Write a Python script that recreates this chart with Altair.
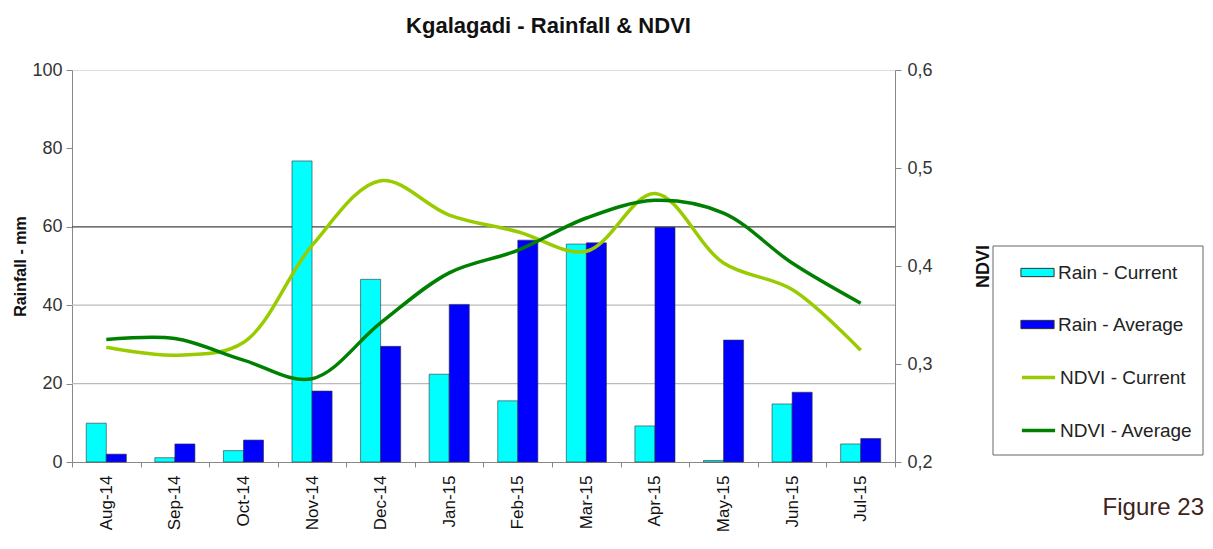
import altair as alt
import pandas as pd

months = ["Aug-14", "Sep-14", "Oct-14", "Nov-14", "Dec-14", "Jan-15",
          "Feb-15", "Mar-15", "Apr-15", "May-15", "Jun-15", "Jul-15"]
rain_current = [9.9, 1.1, 2.9, 76.8, 46.6, 22.4, 15.6, 55.6, 9.2, 0.4, 14.8, 4.6]
rain_average = [2.0, 4.6, 5.6, 18.1, 29.5, 40.2, 56.6, 55.9, 59.9, 31.1, 17.8, 6.0]
ndvi_current = [0.317, 0.309, 0.322, 0.421, 0.487, 0.452, 0.435, 0.415, 0.474, 0.403, 0.376, 0.314]
ndvi_average = [0.325, 0.326, 0.304, 0.285, 0.342, 0.393, 0.416, 0.449, 0.467, 0.454, 0.403, 0.362]
bar_series = ["Rain - Current", "Rain - Average"]
bar_colors = ["#00FFFF", "#0000FF"]
line_series = ["NDVI - Current", "NDVI - Average"]
line_colors = ["#99CC00", "#008000"]
grid_values = [20, 40, 60]
grid_colors = ["#BBBBBB", "#BBBBBB", "#444444"]

bars_df = pd.DataFrame(
    [{"month": m, "series": bar_series[0], "value": v} for m, v in zip(months, rain_current)]
    + [{"month": m, "series": bar_series[1], "value": v} for m, v in zip(months, rain_average)]
)
lines_df = pd.DataFrame(
    [{"month": m, "series": line_series[0], "ndvi": v} for m, v in zip(months, ndvi_current)]
    + [{"month": m, "series": line_series[1], "ndvi": v} for m, v in zip(months, ndvi_average)]
)
grid_df = pd.DataFrame({"y": grid_values, "c": grid_colors})

FONT = "Liberation Sans"

xenc = alt.X("month:N", sort=months, title=None,
             scale=alt.Scale(paddingInner=0, paddingOuter=0),
             axis=alt.Axis(labelAngle=-90, labelFontSize=17, labelColor="#111",
                           labelFont=FONT, tickBand="extent", tickSize=5,
                           tickColor="#888", domainColor="#888", labelPadding=8,
                           grid=False))

frame = alt.Chart(pd.DataFrame({"k": [0]})).mark_rect(
    fill="white", stroke="#666", strokeWidth=1
).encode(x=alt.value(921), x2=alt.value(1131), y=alt.value(176), y2=alt.value(385))

rules = alt.Chart(grid_df).mark_rule(strokeWidth=1.3).encode(
    y=alt.Y("y:Q", scale=alt.Scale(domain=[0, 100])),
    color=alt.Color("c:N", scale=None, legend=None),
)

bars = alt.Chart(bars_df).mark_bar(stroke="#333", strokeWidth=0.6).encode(
    x=xenc,
    xOffset=alt.XOffset("series:N", sort=bar_series,
                        scale=alt.Scale(paddingInner=0, paddingOuter=0.71)),
    y=alt.Y("value:Q", title="Rainfall - mm",
            scale=alt.Scale(domain=[0, 100]),
            axis=alt.Axis(values=[0, 20, 40, 60, 80, 100], grid=False,
                          labelFontSize=18, labelColor="#333", labelFont=FONT,
                          titleFont=FONT, titleFontSize=16, titleFontWeight="bold",
                          titleColor="#111", titlePadding=3, tickSize=6,
                          tickColor="#888", domainColor="#888", labelPadding=4)),
    fill=alt.Fill("series:N", sort=bar_series,
                  scale=alt.Scale(domain=bar_series, range=bar_colors), title=None,
                  legend=alt.Legend(
                      orient="none", legendX=948, legendY=185, padding=0,
                      symbolType="M-1,-0.25H1V0.25H-1Z", symbolSize=1100,
                      symbolStrokeColor="#333", symbolStrokeWidth=1,
                      symbolOpacity=1,
                      rowPadding=24, labelFontSize=19, labelFont=FONT,
                      labelColor="#222", labelOffset=3)),
)

note = alt.Chart(pd.DataFrame({"t": ["Figure 23"]})).mark_text(
    font=FONT, fontSize=24, color="#40231a", align="right", baseline="middle"
).encode(x=alt.value(1132), y=alt.value(438), text="t:N")

lines = alt.Chart(lines_df).mark_line(strokeWidth=3.5, interpolate="catmull-rom").encode(
    x=xenc,
    y=alt.Y("ndvi:Q", title="NDVI",
            scale=alt.Scale(domain=[0.2, 0.6]),
            axis=alt.Axis(orient="right", values=[0.2, 0.3, 0.4, 0.5, 0.6], grid=False,
                          labelExpr="replace(format(datum.value, '.1f'), '.', ',')",
                          labelFontSize=18, labelColor="#333", labelFont=FONT,
                          titleFont=FONT, titleFontSize=18, titleFontWeight="bold",
                          titleColor="#111", titleAngle=270, titlePadding=60,
                          tickSize=6, tickColor="#888", domainColor="#888",
                          labelPadding=6)),
    stroke=alt.Stroke("series:N", sort=line_series,
                      scale=alt.Scale(domain=line_series, range=line_colors), title=None,
                      legend=alt.Legend(
                          orient="none", legendX=948, legendY=289, padding=0,
                          symbolType="stroke", symbolSize=1100, symbolStrokeWidth=3.5,
                          rowPadding=24, labelFontSize=19, labelFont=FONT,
                          labelColor="#222", labelOffset=3)),
)

left = alt.layer(frame, rules, bars, note)

chart = alt.layer(left, lines).resolve_scale(y="independent").properties(
    width=823, height=392,
    autosize=alt.AutoSizeParams(type="none"),
    padding={"left": 64, "top": 62, "right": 310, "bottom": 71},
    title=alt.TitleParams("Kgalagadi - Rainfall & NDVI", font=FONT, fontSize=22,
                          fontWeight="bold", color="#111", anchor="middle",
                          offset=23, dx=65),
).configure_view(stroke=None).configure(background="white")

chart.save("out.html", embed_options={"renderer": "svg", "actions": False})
